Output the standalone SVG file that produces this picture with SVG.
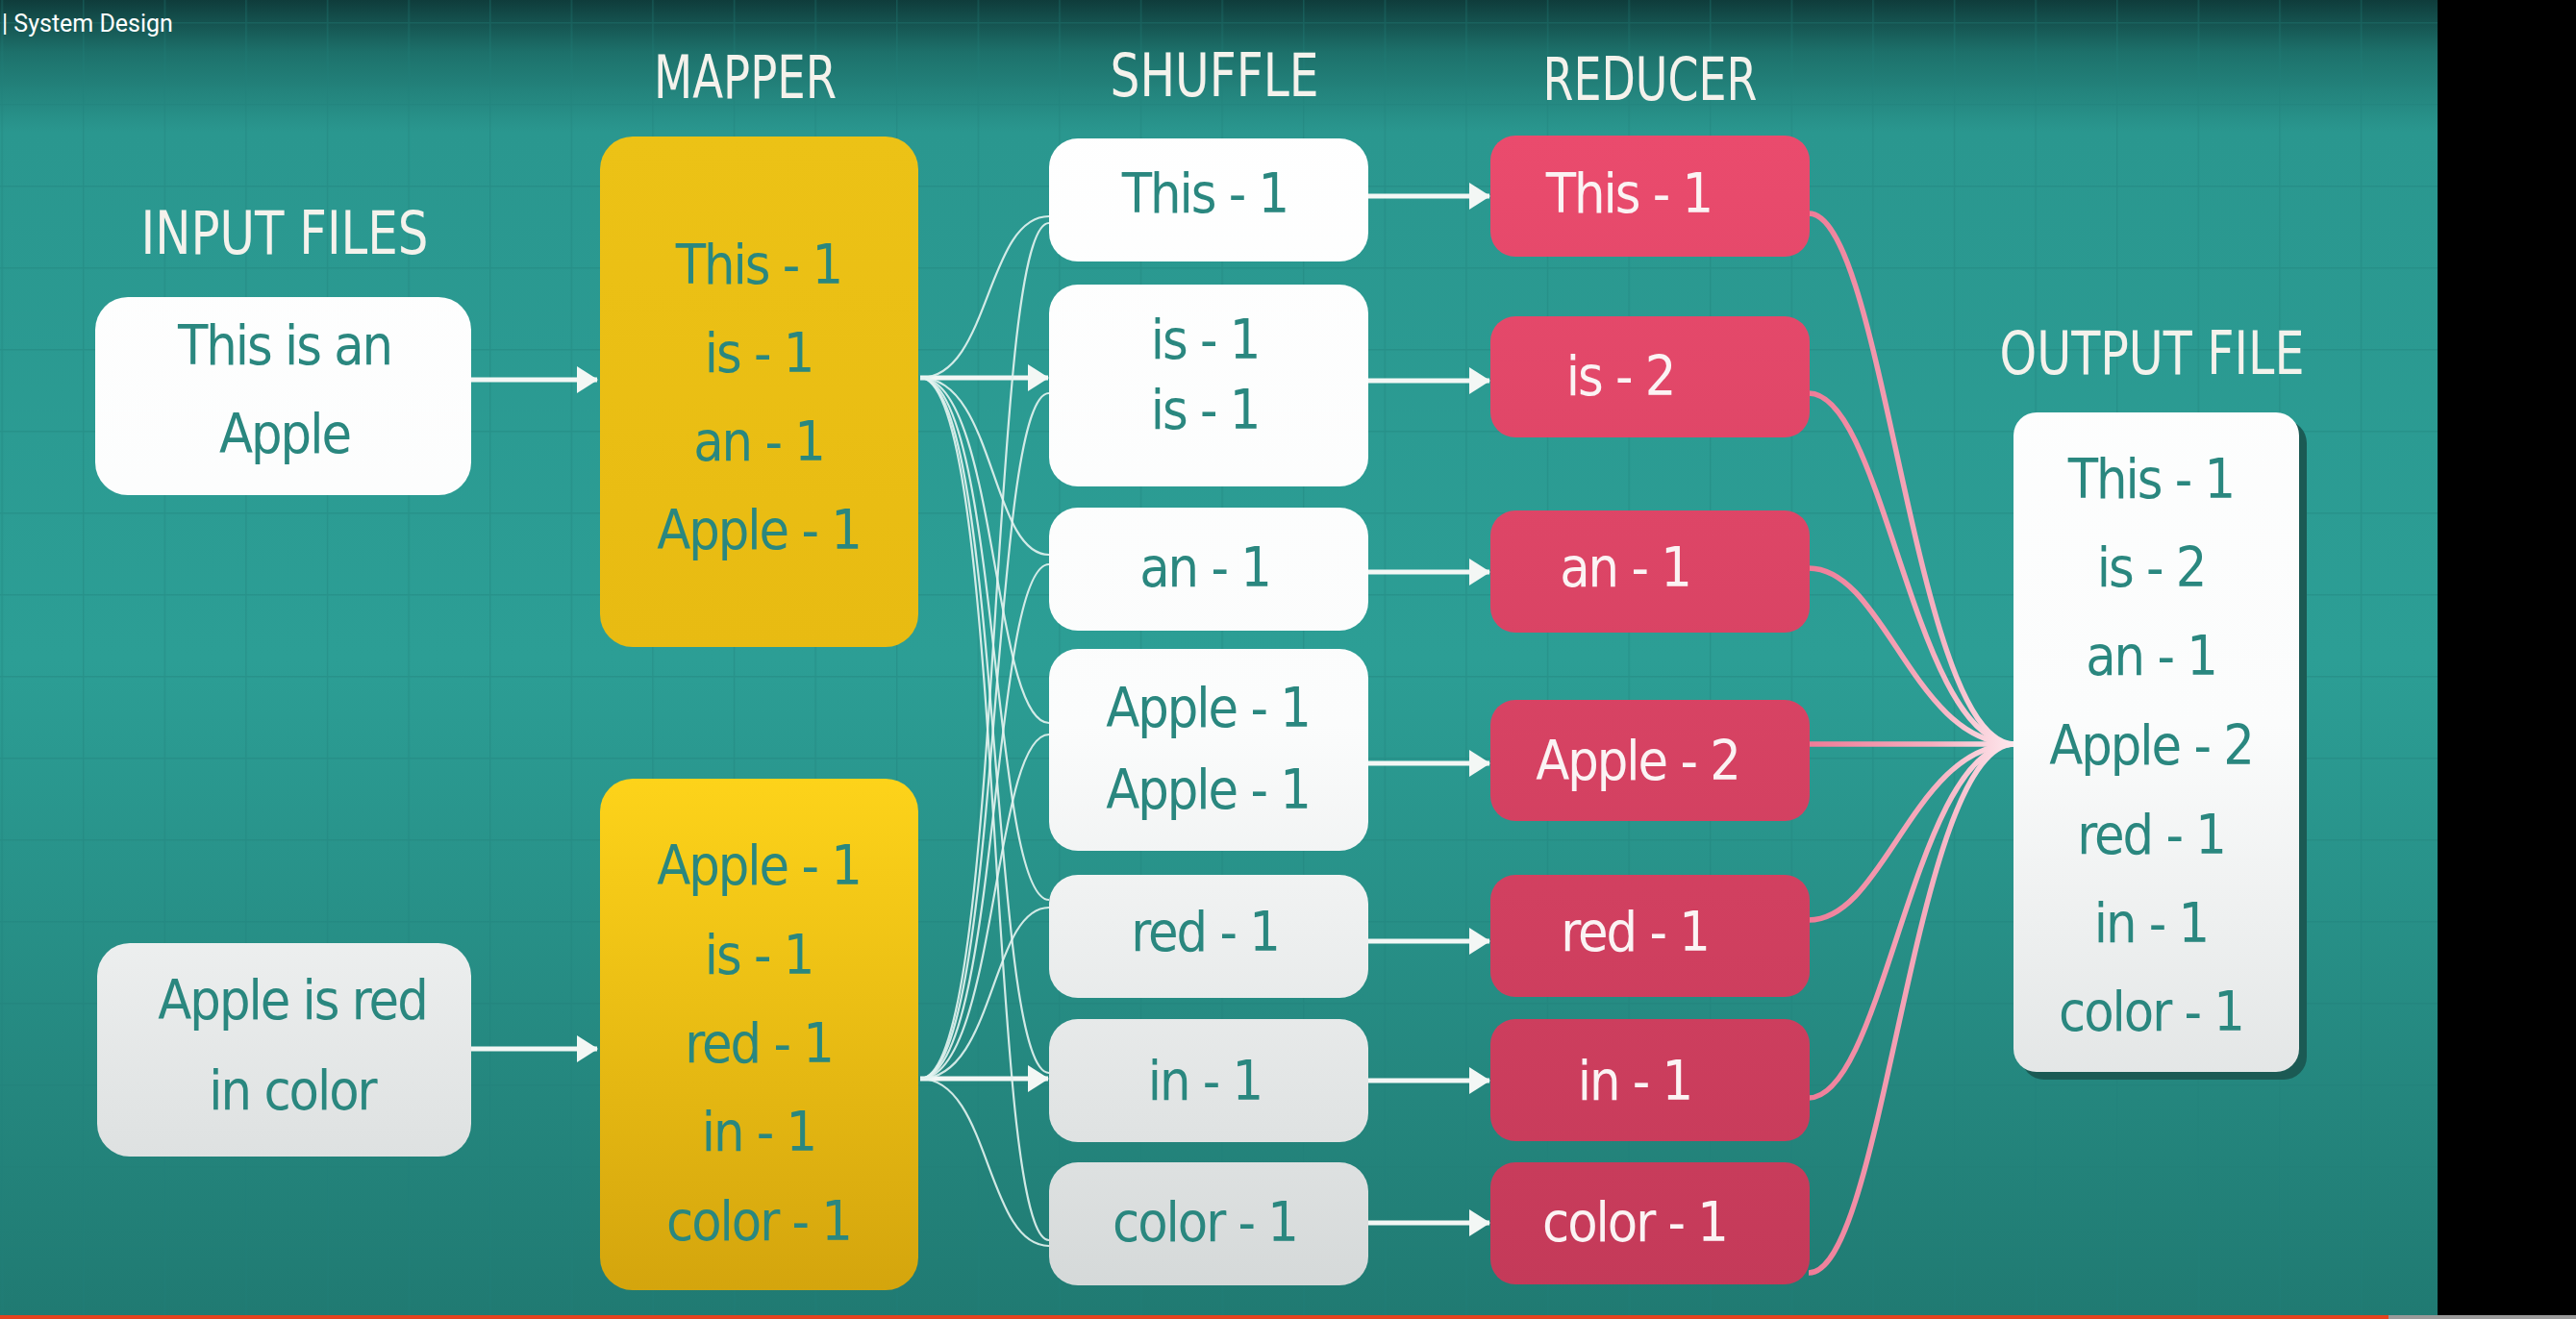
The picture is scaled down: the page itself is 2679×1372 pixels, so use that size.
<svg xmlns="http://www.w3.org/2000/svg" width="2679" height="1372" viewBox="0 0 2679 1372">
<defs>
<linearGradient id="bg" x1="0" y1="0" x2="0" y2="1372" gradientUnits="userSpaceOnUse">
<stop offset="0" stop-color="#0f3c3b"/>
<stop offset="0.04" stop-color="#1d716b"/>
<stop offset="0.1" stop-color="#2a978f"/>
<stop offset="0.5" stop-color="#2c9e95"/>
<stop offset="1" stop-color="#207a72"/>
</linearGradient>
<pattern id="grid" x="1.4" y="23" width="84.6" height="85" patternUnits="userSpaceOnUse">
<path d="M0 0.5H84.6M0.5 0V85" stroke="#1f7f78" stroke-opacity="0.35" stroke-width="2" fill="none"/>
</pattern>
<linearGradient id="paper" x1="0" y1="0" x2="0" y2="1372" gradientUnits="userSpaceOnUse">
<stop offset="0" stop-color="#ffffff"/>
<stop offset="0.55" stop-color="#fbfcfc"/>
<stop offset="1" stop-color="#d3d7d7"/>
</linearGradient>
<linearGradient id="mapA" x1="0" y1="0" x2="0" y2="1">
<stop offset="0" stop-color="#ecc216"/>
<stop offset="1" stop-color="#e8bb12"/>
</linearGradient>
<linearGradient id="mapB" x1="0" y1="0" x2="0" y2="1">
<stop offset="0" stop-color="#fdd31a"/>
<stop offset="1" stop-color="#d4a50d"/>
</linearGradient>
<linearGradient id="red" x1="0" y1="140" x2="0" y2="1340" gradientUnits="userSpaceOnUse">
<stop offset="0" stop-color="#ea4b6d"/>
<stop offset="1" stop-color="#c43a59"/>
</linearGradient>
<linearGradient id="pink" x1="1881" y1="0" x2="2095" y2="0" gradientUnits="userSpaceOnUse">
<stop offset="0" stop-color="#ef7b97"/>
<stop offset="0.6" stop-color="#f6aebf"/>
<stop offset="1" stop-color="#fde9ee"/>
</linearGradient>
<marker id="ah" markerUnits="userSpaceOnUse" markerWidth="22" markerHeight="28" viewBox="0 0 22 28" refX="21" refY="14" orient="auto">
<path d="M0 0L22 14L0 28Z" fill="#f3f7f5"/>
</marker>
<style>
.hdr{font-family:"Liberation Sans Narrow","DejaVu Sans Condensed","Liberation Sans",sans-serif;font-size:62px;fill:#f4f2ec;text-anchor:middle}
.t{font-family:"DejaVu Sans Condensed","Liberation Sans",sans-serif;font-size:57px;letter-spacing:-2px;fill:#2a877f;text-anchor:middle}
.tw{fill:#fbf3f4}
.box{fill:url(#paper)}
.arr{stroke:#f3f7f5;stroke-width:5;fill:none;marker-end:url(#ah)}
.fan{stroke:#e4f4f1;stroke-width:2.2;fill:none;stroke-opacity:0.9}
.pk{stroke:url(#pink);stroke-width:5.5;fill:none}
</style>
</defs>
<rect width="2679" height="1372" fill="url(#bg)"/>
<rect width="2679" height="1372" fill="url(#grid)"/>
<rect x="2535" y="0" width="144" height="1372" fill="#000"/>
<rect x="0" y="1368" width="2484" height="4" fill="#e5431f"/>
<rect x="2484" y="1368" width="195" height="4" fill="#9a9a9a"/>
<text x="2" y="33" font-family="Roboto,'Liberation Sans',sans-serif" font-size="25" fill="#ffffff">| System Design</text>

<g id="headers">
<text class="hdr" x="296" y="264" textLength="299" lengthAdjust="spacingAndGlyphs">INPUT FILES</text>
<text class="hdr" x="775" y="102" textLength="190" lengthAdjust="spacingAndGlyphs">MAPPER</text>
<text class="hdr" x="1263" y="100" textLength="217" lengthAdjust="spacingAndGlyphs">SHUFFLE</text>
<text class="hdr" x="1716" y="104" textLength="223" lengthAdjust="spacingAndGlyphs">REDUCER</text>
<text class="hdr" x="2238" y="389" textLength="317" lengthAdjust="spacingAndGlyphs">OUTPUT FILE</text>
</g>

<g id="connectors">
<path class="arr" d="M490 395H621"/>
<path class="arr" d="M490 1091H621"/>
<path class="arr" d="M957 393H1090"/>
<path class="arr" d="M957 1122H1090"/>
<path class="arr" d="M1423 204H1549"/>
<path class="arr" d="M1423 396H1549"/>
<path class="arr" d="M1423 595H1549"/>
<path class="arr" d="M1423 794H1549"/>
<path class="arr" d="M1423 979H1549"/>
<path class="arr" d="M1423 1124H1549"/>
<path class="arr" d="M1423 1272H1549"/>
<path class="fan" d="M957 393C1030 393 1025 225 1091 225"/>
<path class="fan" d="M957 393C1035 393 1030 577 1091 577"/>
<path class="fan" d="M957 393C1037 393 1032 752 1091 752"/>
<path class="fan" d="M957 393C1040 393 1030 936 1091 936"/>
<path class="fan" d="M957 393C1042 393 1028 1116 1091 1116"/>
<path class="fan" d="M957 393C1045 393 1026 1290 1091 1290"/>
<path class="fan" d="M957 1122C1045 1122 1026 232 1091 232"/>
<path class="fan" d="M957 1122C1042 1122 1028 409 1091 409"/>
<path class="fan" d="M957 1122C1040 1122 1030 587 1091 587"/>
<path class="fan" d="M957 1122C1037 1122 1032 764 1091 764"/>
<path class="fan" d="M957 1122C1035 1122 1030 944 1091 944"/>
<path class="fan" d="M957 1122C1030 1122 1025 1296 1091 1296"/>
<path class="pk" d="M1881 222C1960 222 1990 774 2095 774"/>
<path class="pk" d="M1881 409C1960 409 1990 774 2095 774"/>
<path class="pk" d="M1881 591C1960 591 1990 774 2095 774"/>
<path class="pk" d="M1881 774H2095"/>
<path class="pk" d="M1881 957C1960 957 1990 774 2095 774"/>
<path class="pk" d="M1881 1142C1960 1142 1990 774 2095 774"/>
<path class="pk" d="M1881 1324C1960 1324 1990 774 2095 774"/>
</g>

<g id="input1">
<rect class="box" x="99" y="309" width="391" height="206" rx="34"/>
<text class="t" x="296" y="379">This is an</text>
<text class="t" x="296" y="471">Apple</text>
</g>
<g id="input2">
<rect class="box" x="101" y="981" width="389" height="222" rx="34"/>
<text class="t" x="304" y="1060">Apple is red</text>
<text class="t" x="304" y="1154">in color</text>
</g>

<g id="mapper1">
<rect x="624" y="142" width="331" height="531" rx="34" fill="url(#mapA)"/>
<text class="t" x="789" y="295">This - 1</text>
<text class="t" x="789" y="387">is - 1</text>
<text class="t" x="789" y="479">an - 1</text>
<text class="t" x="789" y="571">Apple - 1</text>
</g>
<g id="mapper2">
<rect x="624" y="810" width="331" height="532" rx="34" fill="url(#mapB)"/>
<text class="t" x="789" y="920">Apple - 1</text>
<text class="t" x="789" y="1013">is - 1</text>
<text class="t" x="789" y="1105">red - 1</text>
<text class="t" x="789" y="1197">in - 1</text>
<text class="t" x="789" y="1290">color - 1</text>
</g>

<g id="shuffle1"><rect class="box" x="1091" y="144" width="332" height="128" rx="30"/><text class="t" x="1253" y="221">This - 1</text></g>
<g id="shuffle2"><rect class="box" x="1091" y="296" width="332" height="210" rx="30"/><text class="t" x="1253" y="373">is - 1</text><text class="t" x="1253" y="446">is - 1</text></g>
<g id="shuffle3"><rect class="box" x="1091" y="528" width="332" height="128" rx="30"/><text class="t" x="1253" y="610">an - 1</text></g>
<g id="shuffle4"><rect class="box" x="1091" y="675" width="332" height="210" rx="30"/><text class="t" x="1256" y="756">Apple - 1</text><text class="t" x="1256" y="841">Apple - 1</text></g>
<g id="shuffle5"><rect class="box" x="1091" y="910" width="332" height="128" rx="30"/><text class="t" x="1253" y="989">red - 1</text></g>
<g id="shuffle6"><rect class="box" x="1091" y="1060" width="332" height="128" rx="30"/><text class="t" x="1253" y="1144">in - 1</text></g>
<g id="shuffle7"><rect class="box" x="1091" y="1209" width="332" height="128" rx="30"/><text class="t" x="1253" y="1291">color - 1</text></g>

<g id="reducer1"><rect x="1550" y="141" width="332" height="126" rx="26" fill="url(#red)"/><text class="t tw" x="1694" y="221">This - 1</text></g>
<g id="reducer2"><rect x="1550" y="329" width="332" height="126" rx="26" fill="url(#red)"/><text class="t tw" x="1685" y="411">is - 2</text></g>
<g id="reducer3"><rect x="1550" y="531" width="332" height="127" rx="26" fill="url(#red)"/><text class="t tw" x="1690" y="610">an - 1</text></g>
<g id="reducer4"><rect x="1550" y="728" width="332" height="126" rx="26" fill="url(#red)"/><text class="t tw" x="1703" y="811">Apple - 2</text></g>
<g id="reducer5"><rect x="1550" y="910" width="332" height="127" rx="26" fill="url(#red)"/><text class="t tw" x="1700" y="989">red - 1</text></g>
<g id="reducer6"><rect x="1550" y="1060" width="332" height="127" rx="26" fill="url(#red)"/><text class="t tw" x="1700" y="1144">in - 1</text></g>
<g id="reducer7"><rect x="1550" y="1209" width="332" height="127" rx="26" fill="url(#red)"/><text class="t tw" x="1700" y="1291">color - 1</text></g>

<g id="output">
<rect x="2102" y="437" width="297" height="686" rx="24" fill="#1b5a54"/>
<rect class="box" x="2094" y="429" width="297" height="686" rx="24"/>
<text class="t" x="2237" y="518">This - 1</text>
<text class="t" x="2237" y="610">is - 2</text>
<text class="t" x="2237" y="702">an - 1</text>
<text class="t" x="2237" y="795">Apple - 2</text>
<text class="t" x="2237" y="888">red - 1</text>
<text class="t" x="2237" y="980">in - 1</text>
<text class="t" x="2237" y="1072">color - 1</text>
</g>
</svg>
